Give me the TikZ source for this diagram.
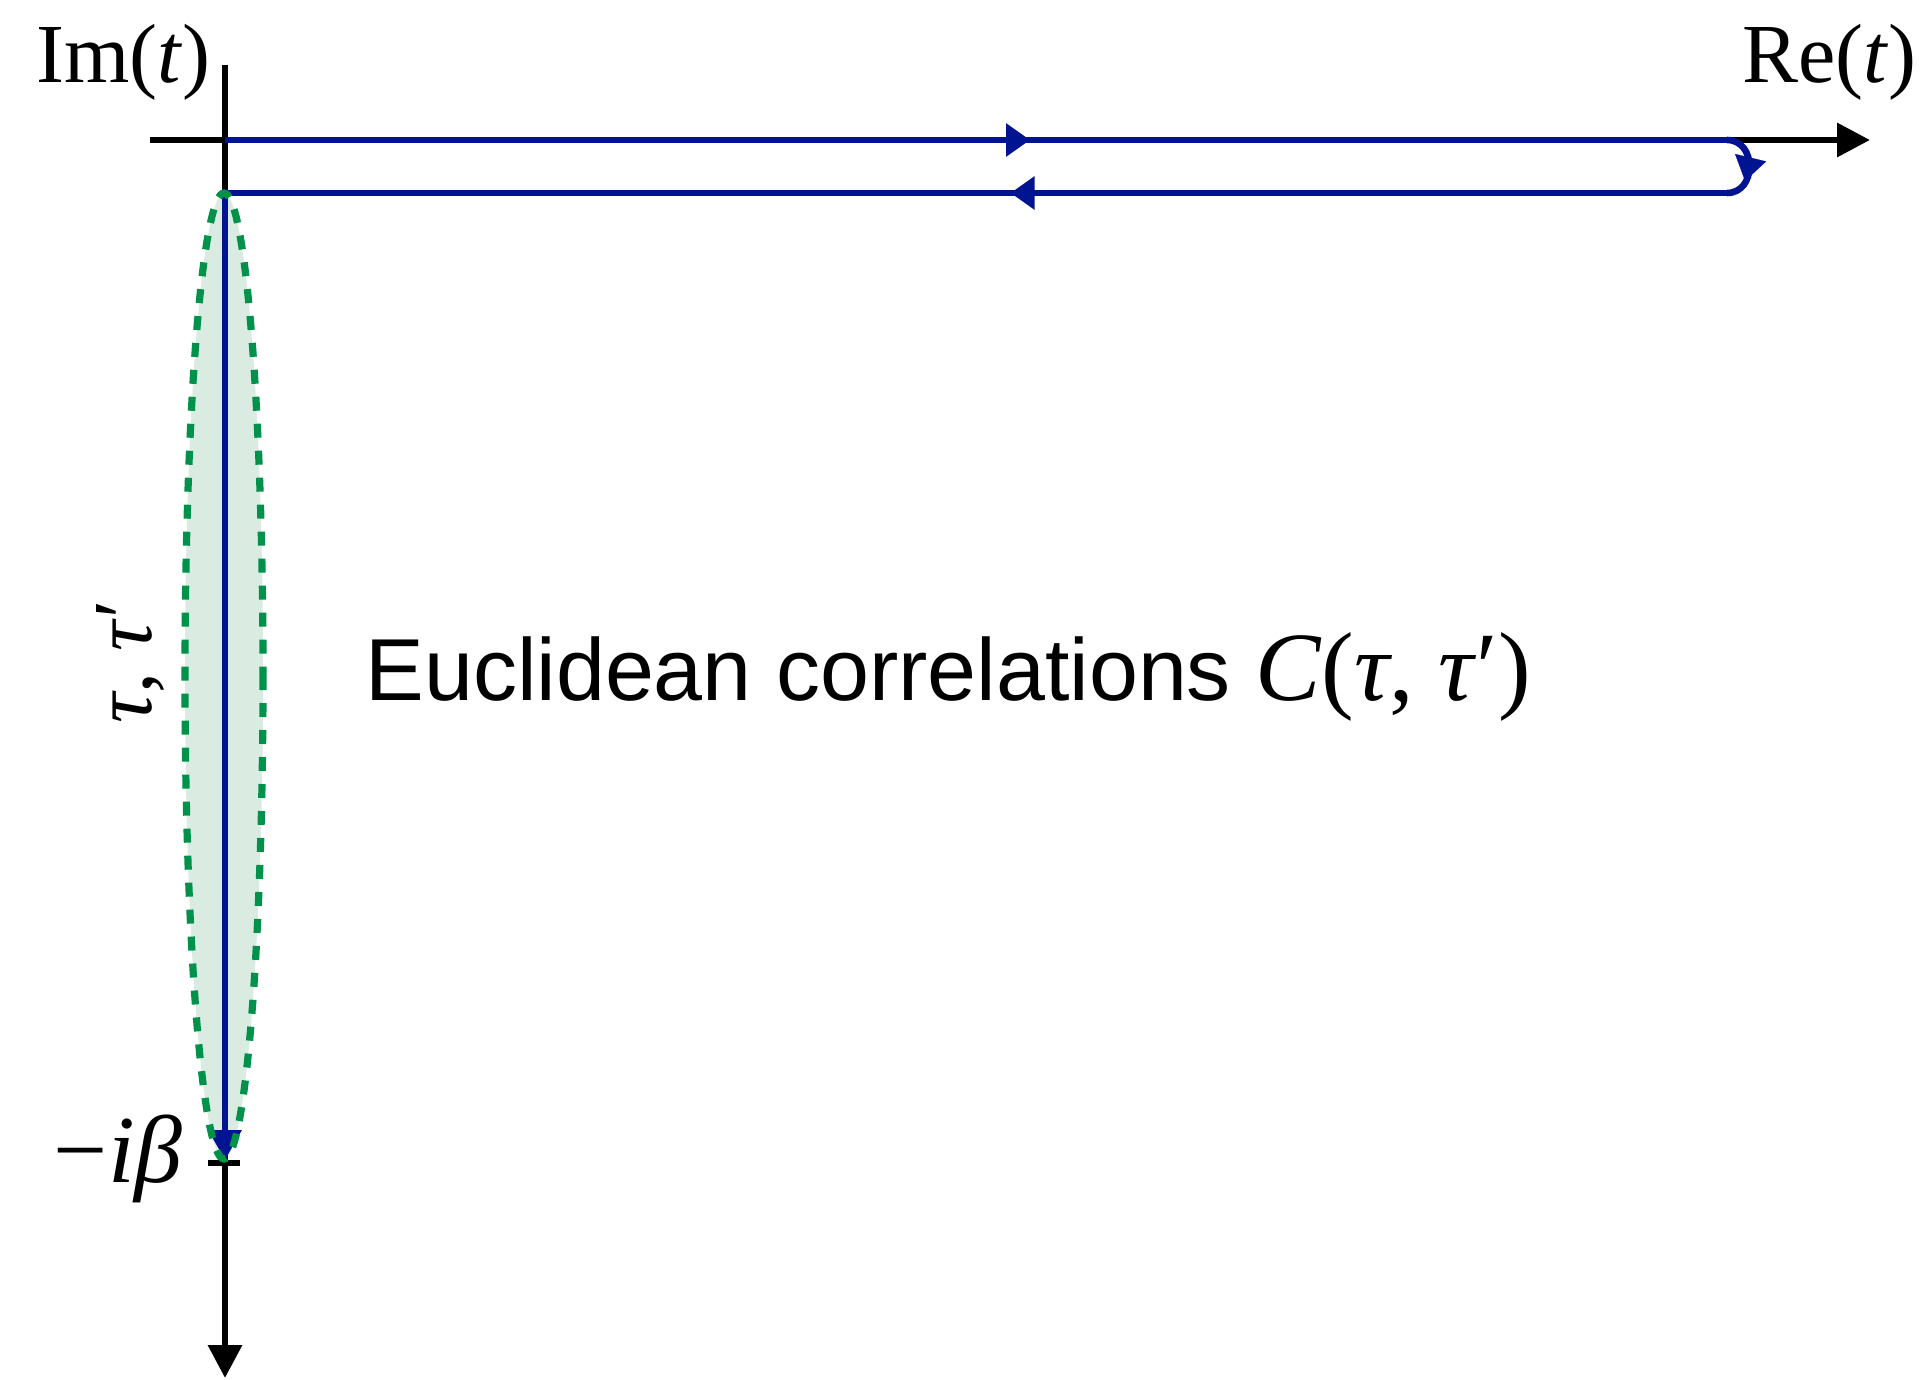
\documentclass[tikz,border=0pt]{standalone}
\usepackage{fontspec}
\setmainfont{Liberation Serif}
\newfontfamily\labsans{Liberation Sans}
\usetikzlibrary{arrows.meta,decorations.markings}
\definecolor{cblue}{RGB}{0,20,145}
\definecolor{cgreen}{RGB}{0,145,75}
\definecolor{cfill}{RGB}{218,235,226}
\begin{document}
\begin{tikzpicture}[x=0.5pt,y=-0.5pt,
  axis/.style={line width=3.2pt,black},
  axisarrow/.style={axis,-{Triangle[length=16.5pt,width=16.5pt]}},
  contour/.style={line width=3.3pt,cblue},
  midarrow/.style={postaction={decorate},decoration={markings,mark=at position #1 with {\arrow{Triangle[length=12pt,width=16pt]}}}},
  lbl/.style={inner sep=0pt,font=\fontsize{42}{50}\selectfont},
  ellfill/.style={fill=cfill},
  elldash/.style={draw=cgreen,line width=3.6pt,dash pattern=on 7pt off 6.5pt}]
\useasboundingbox (0,0) rectangle (1931,1380);
% coordinates
\coordinate (xl) at (150,140);
\coordinate (xr) at (1870,140);
\coordinate (yt) at (225,65);
\coordinate (yb) at (225,1378);
\coordinate (O) at (225,140);
\coordinate (A) at (1727,140);
\coordinate (B) at (1727,193);
\coordinate (C) at (225,193);
\coordinate (D) at (225,1160);
\coordinate (tl) at (208,1163);
\coordinate (tr) at (240,1163);
\coordinate (ta) at (1751,156);
\coordinate (tb) at (1745,181);
% ellipse fill
\fill[ellfill] (224,676) ellipse [x radius=39, y radius=483];
% axes
\draw[axisarrow] (xl) -- (xr);
\draw[axisarrow] (yt) -- (yb);
\draw[axis] (tl) -- (tr);
% contour
\draw[contour,midarrow=0.536] (O) -- (A);
\draw[contour] (A) .. controls (1757,140) and (1757,193) .. (B);
\draw[cblue,line width=0.1pt,-{Triangle[length=12pt,width=16pt]}] (ta) -- (tb);
\draw[contour,midarrow=0.477] (B) -- (C);
\draw[contour,-{Triangle[length=15pt,width=16pt]}] (C) -- (D);
% ellipse outline
\draw[elldash] (224,676) ellipse [x radius=39, y radius=483];
% labels
\node[lbl,anchor=base west] (im) at (36,83) {Im(\textit{t})};
\node[lbl,anchor=base east] (re) at (1917,83) {Re(\textit{t})};
\node[lbl,anchor=base east,font=\fontsize{48}{56}\selectfont] (beta) at (183,1182) {−\textit{iβ}};
\node[lbl,rotate=90] (tau) at (130,662) {\textit{τ}, \textit{τ}′};
\node[inner sep=0pt,anchor=base west,font=\labsans\fontsize{44}{52}\selectfont] (eu) at (365,700) {Euclidean correlations {\rmfamily\fontsize{49}{56}\selectfont\textit{C}(\textit{τ}, \textit{τ}′)}};
\end{tikzpicture}
\end{document}
